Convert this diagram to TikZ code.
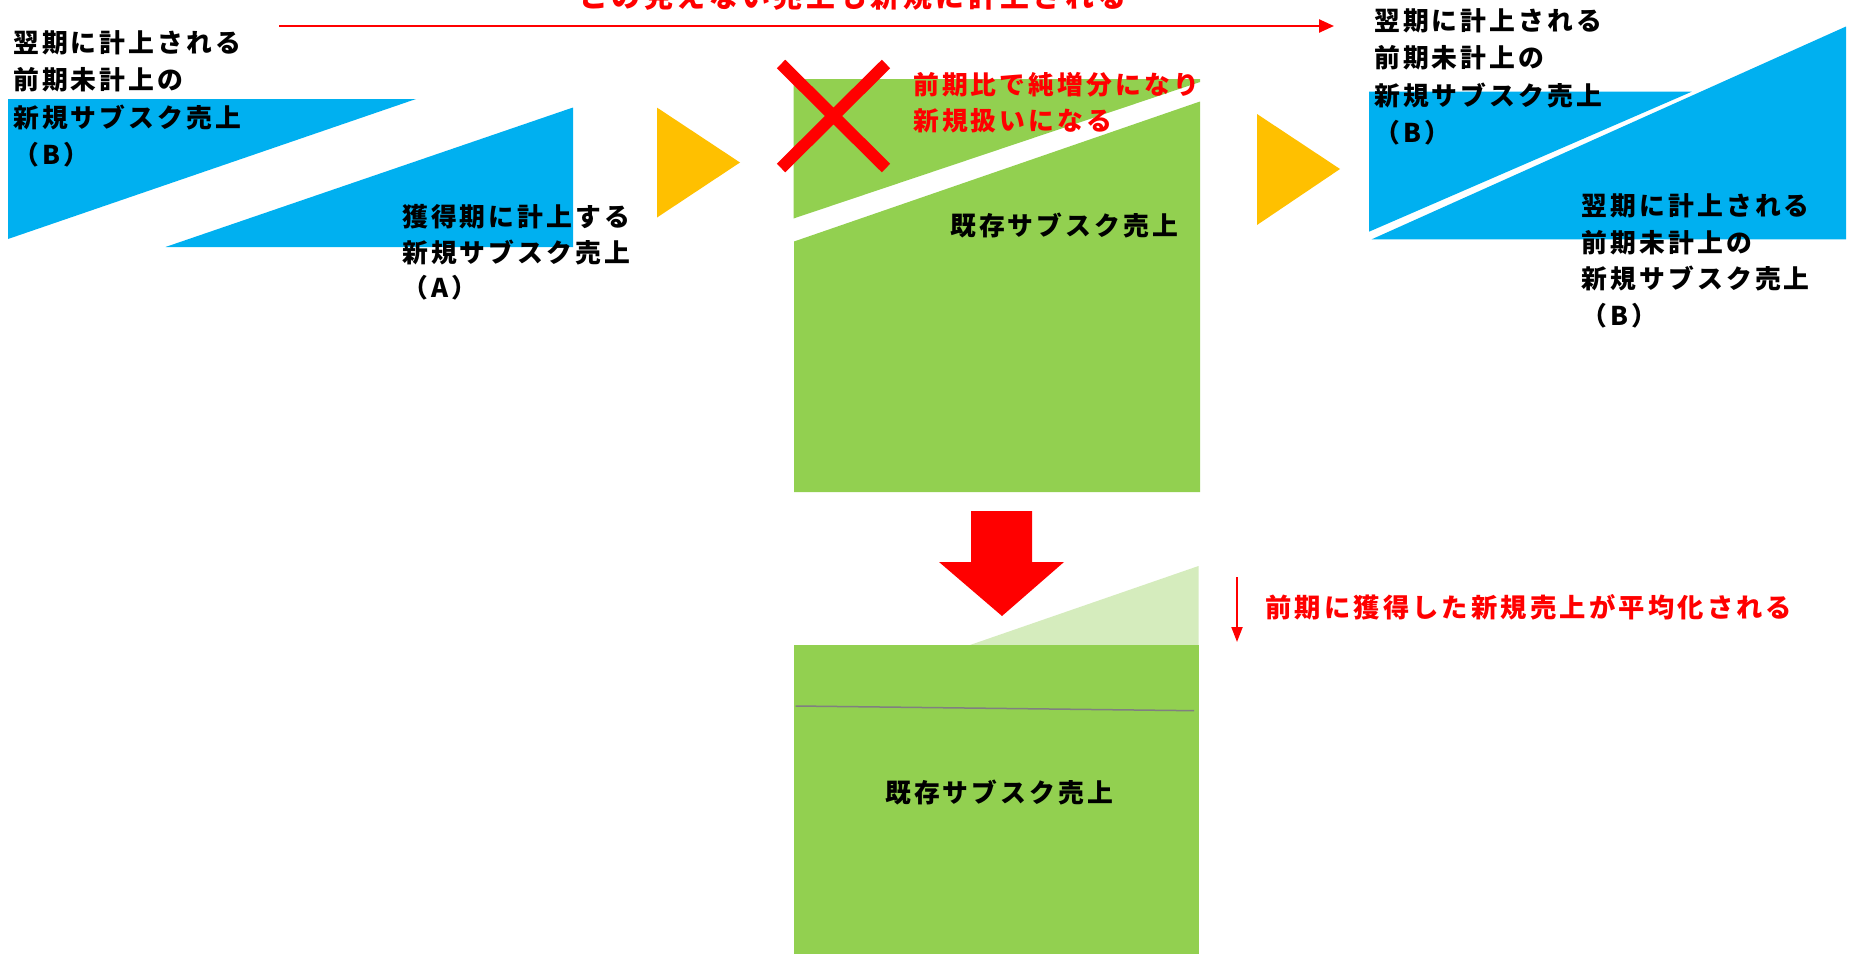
\documentclass[tikz,border=0pt]{standalone}
\usepackage{fontspec}
\newfontfamily\jp[LetterSpace=12]{Noto Sans CJK JP}
\usetikzlibrary{arrows.meta}
\definecolor{cblue}{HTML}{00B0F0}
\definecolor{cgreen}{HTML}{92D050}
\definecolor{clight}{HTML}{D5ECBD}
\definecolor{cyellow}{HTML}{FFC000}
\definecolor{cred}{HTML}{FF0000}
\definecolor{cgray}{HTML}{808080}
\tikzset{
  lbl/.style={inner sep=0pt, align=left, anchor=west, text=black},
  redlbl/.style={inner sep=0pt, align=left, anchor=west, text=cred},
  thinarrow/.style={draw=cred, line width=2.4pt, -{Triangle[length=15pt,width=13pt]}},
}
\begin{document}
\begin{tikzpicture}[x=1pt,y=-1pt]
\clip (0,0) rectangle (1854,953);
\useasboundingbox (0,0) rectangle (1854,953);
\fill[white] (0,0) rectangle (1854,953);

% left blue triangles
\fill[cblue] (8,99) -- (416,99) -- (8,239) -- cycle;
\fill[cblue] (573,107.5) -- (573,247) -- (165.5,247) -- cycle;

% yellow triangles
\fill[cyellow] (657,107.6) -- (740,162.5) -- (657,217.5) -- cycle;
\fill[cyellow] (1257,114) -- (1340,169) -- (1257,225) -- cycle;

% middle green block
\fill[cgreen] (793.5,79) -- (1200,79) -- (1200,82) -- (793.5,218.5) -- cycle;
\fill[cgreen] (794,241.5) -- (1200,101.5) -- (1200,492) -- (794,492) -- cycle;

% red cross
\draw[cred, line width=12pt] (781,64) -- (886,168) (886,64) -- (781,168);

% right blue shapes
\fill[cblue] (1369,91.7) -- (1691.7,91.7) -- (1369,231.7) -- cycle;
\fill[cblue] (1371.7,239.3) -- (1846,26.5) -- (1846,239.3) -- cycle;

% block arrow down
\fill[cred] (971,511) -- (1032,511) -- (1032,562) -- (1064,562) -- (1002,616) -- (939,562) -- (971,562) -- cycle;

% bottom block
\fill[clight] (970,645) -- (1198.5,566) -- (1198.5,645) -- cycle;
\fill[cgreen] (793.5,645) rectangle (1198.5,960);
\draw[cgray, line width=1.5pt] (795.7,706) -- (1194,710.7);

% thin arrows
\coordinate (tops) at (279,26);
\coordinate (tope) at (1334,26);
\draw[thinarrow] (tops) -- (tope);
\coordinate (downs) at (1237,577);
\coordinate (downe) at (1237,642);
\draw[draw=cred, line width=2pt, -{Triangle[length=15pt,width=11pt]}] (downs) -- (downe);

% texts
\node[inner sep=0pt, anchor=base, text=cred, font=\jp\bfseries\fontsize{28.9}{34}\selectfont] (toptxt) at (853,7) {この見えない売上も新規に計上される};

\node[lbl, font=\jp\bfseries\fontsize{25.8}{37.2}\selectfont] (lt) at (13,98.8) {翌期に計上される\\前期未計上の\\新規サブスク売上\\（B）};
\node[lbl, font=\jp\bfseries\fontsize{25.8}{35.5}\selectfont] (ta) at (402,252.5) {獲得期に計上する\\新規サブスク売上\\（A）};
\node[redlbl, font=\jp\bfseries\fontsize{25.8}{36}\selectfont] (mr) at (913,103) {前期比で純増分になり\\新規扱いになる};
\node[lbl, font=\jp\bfseries\fontsize{25.8}{30}\selectfont] (ex1) at (950,225) {既存サブスク売上};
\node[lbl, font=\jp\bfseries\fontsize{25.8}{30}\selectfont] (ex2) at (885,792) {既存サブスク売上};
\node[lbl, font=\jp\bfseries\fontsize{25.8}{37.3}\selectfont] (ru) at (1374,77) {翌期に計上される\\前期未計上の\\新規サブスク売上\\（B）};
\node[lbl, font=\jp\bfseries\fontsize{25.8}{36.7}\selectfont] (rl) at (1581.5,261) {翌期に計上される\\前期未計上の\\新規サブスク売上\\（B）};
\node[redlbl, font=\jp\bfseries\fontsize{26.3}{30}\selectfont] (br) at (1265,607.6) {前期に獲得した新規売上が平均化される};
\end{tikzpicture}
\end{document}
